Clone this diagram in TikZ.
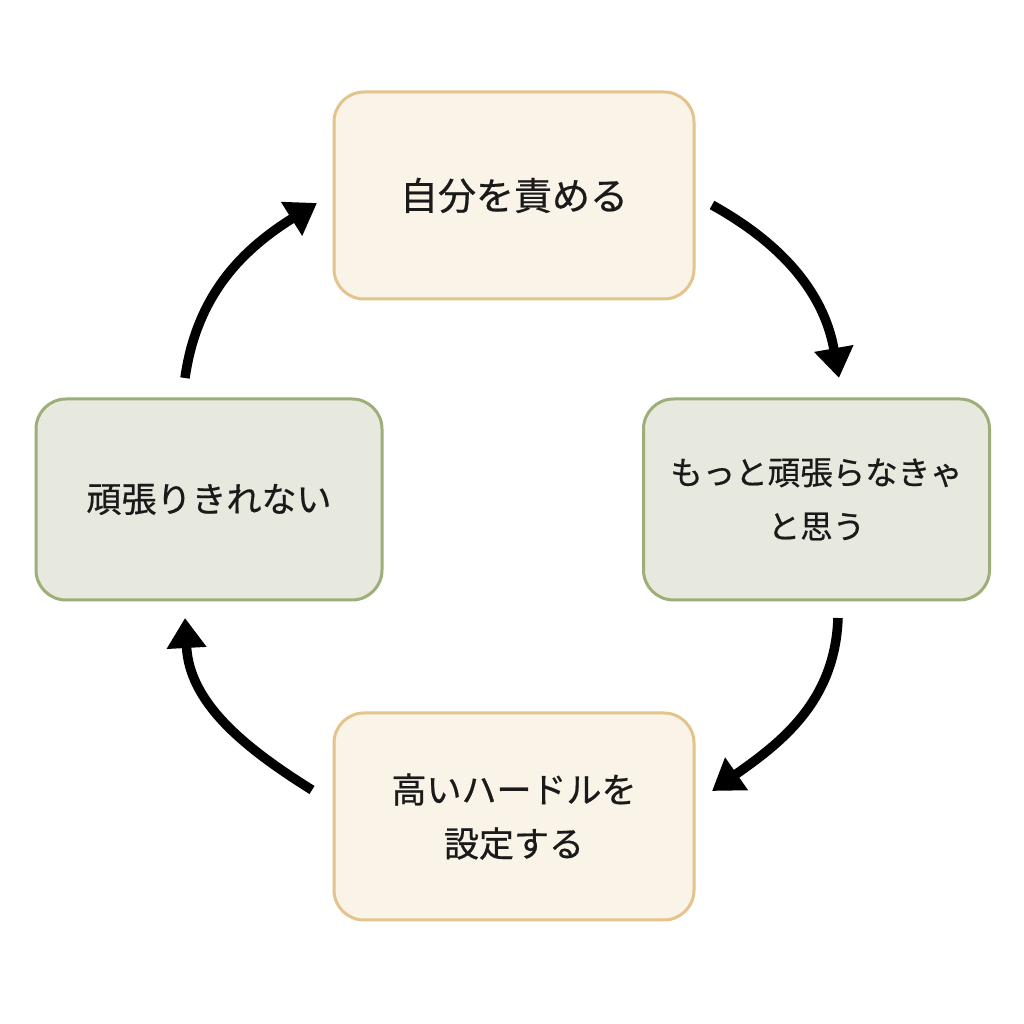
\documentclass[tikz,border=0pt]{standalone}
\usepackage{fontspec}
\setmainfont{Noto Sans CJK JP}
\newfontfamily\boxfont[FakeBold=0.6]{Noto Sans CJK JP}
\usetikzlibrary{arrows.meta}
\definecolor{creamfill}{HTML}{F9F3E8}
\definecolor{creamline}{HTML}{E4C48C}
\definecolor{greenfill}{HTML}{E7E9DE}
\definecolor{greenline}{HTML}{9CAF78}
\definecolor{txt}{HTML}{1A1A1A}
\begin{document}
\begin{tikzpicture}[x=1pt,y=1pt,
  box/.style={rounded corners=30pt, line width=3pt, align=center, inner sep=0pt,
    font=\boxfont\fontsize{35}{54}\selectfont, text=txt},
  cream/.style={box, fill=creamfill, draw=creamline, minimum width=360pt, minimum height=207pt},
  green/.style={box, fill=greenfill, draw=greenline, minimum width=346pt, minimum height=201pt},
  cyc/.style={line width=9.5pt, -{Triangle[length=30pt,width=38pt]}, black}]
\fill[white] (0,0) rectangle (1024,1024);
\useasboundingbox (0,0) rectangle (1024,1024);
\node[cream, font=\boxfont\fontsize{38}{54}\selectfont] (top) at (514,828.5) {自分を責める};
\node[green, font=\boxfont\fontsize{32.5}{54}\selectfont] (right) at (816.5,524.5) {もっと頑張らなきゃ\\と思う};
\node[cream] (bottom) at (514,207.5) {高いハードルを\\設定する};
\node[green] (left) at (209,524.5) {頑張りきれない};
\coordinate (a1s) at (712,819);
\coordinate (a1e) at (839,646);
\coordinate (a2s) at (838,406);
\coordinate (a2e) at (712,233);
\coordinate (a3s) at (312,234);
\coordinate (a3e) at (185,406);
\coordinate (a4s) at (185,646);
\coordinate (a4e) at (317,821);
\draw[cyc] (a1s) to[out=-29,in=100] (a1e);
\draw[cyc] (a2s) to[out=-92,in=35] (a2e);
\draw[cyc] (a3s) to[out=148,in=-87] (a3e);
\draw[cyc] (a4s) to[out=82,in=212] (a4e);
\end{tikzpicture}
\end{document}
